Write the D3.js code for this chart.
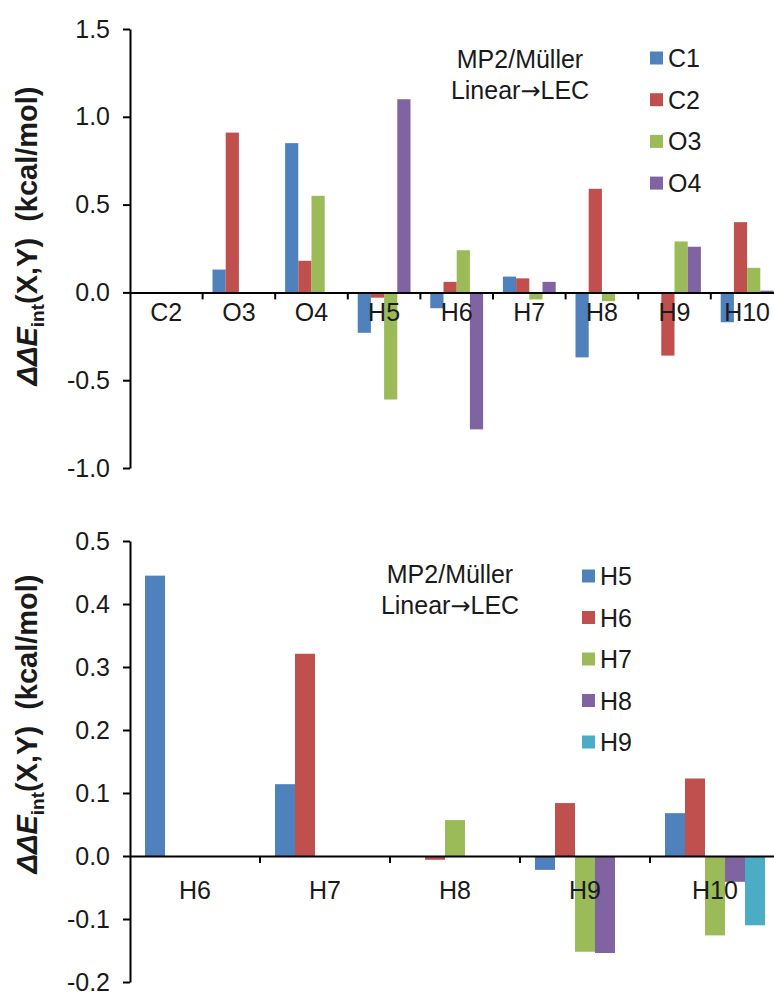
<!DOCTYPE html>
<html>
<head>
<meta charset="utf-8">
<script src="https://cdn.jsdelivr.net/npm/d3@7"></script>
<style>
  body { margin: 0; background: #fff; }
  svg { display: block; font-family: "Liberation Sans", Arial, sans-serif; }
</style>
</head>
<body>
<svg id="chart" width="774" height="992"></svg>
<script>
// top panel data
var topCategories = ["C2", "O3", "O4", "H5", "H6", "H7", "H8", "H9", "H10"];
var topSeries = ["C1", "C2", "O3", "O4"];
var topC1 = [0, 0.13, 0.85, -0.23, -0.09, 0.09, -0.37, 0, -0.17];
var topC2 = [0, 0.91, 0.18, -0.03, 0.06, 0.08, 0.59, -0.36, 0.40];
var topO3 = [0, 0, 0.55, -0.61, 0.24, -0.04, -0.05, 0.29, 0.14];
var topO4 = [0, 0, 0, 1.10, -0.78, 0.06, 0, 0.26, 0.01];
var topTicks = [-1.0, -0.5, 0.0, 0.5, 1.0, 1.5];

// bottom panel data
var botCategories = ["H6", "H7", "H8", "H9", "H10"];
var botSeries = ["H5", "H6", "H7", "H8", "H9"];
var botH5 = [0.445, 0.114, 0, -0.022, 0.068];
var botH6 = [0, 0.321, -0.006, 0.084, 0.123];
var botH7 = [0, 0, 0.057, -0.152, -0.126];
var botH8 = [0, 0, 0, -0.154, -0.041];
var botH9 = [0, 0, 0, 0, -0.11];
var botTicks = [-0.2, -0.1, 0.0, 0.1, 0.2, 0.3, 0.4, 0.5];

var colors = ["#4F81BD", "#C0504D", "#9BBB59", "#8064A2", "#4BACC6"];
var fontSize = 25;

var svg = d3.select("#chart");

function drawPanel(p) {
  var g = svg.append("g");

  var x = d3.scaleBand()
    .domain(p.categories)
    .range([p.left, p.left + p.band * p.categories.length]);

  var y = d3.scaleLinear()
    .domain([p.ticks[0], p.ticks[p.ticks.length - 1]])
    .range([p.bottom, p.top]);

  // excel style gap width 150%
  var barW = p.band / (p.series.length + 1.5);
  var inner = d3.scaleBand()
    .domain(p.series)
    .range([barW * 0.75, p.band - barW * 0.75]);

  p.series.forEach(function(s, si) {
    var vals = p.values[si];
    g.append("g").selectAll("rect")
      .data(p.categories.map(function(c, i) { return {cat: c, v: vals[i]}; }))
      .enter().append("rect")
      .attr("x", function(d) { return x(d.cat) + inner(s); })
      .attr("width", inner.bandwidth())
      .attr("y", function(d) { return y(Math.max(0, d.v)); })
      .attr("height", function(d) { return Math.abs(y(d.v) - y(0)); })
      .attr("fill", colors[si]);
  });

  // y axis
  var yAxis = d3.axisLeft(y)
    .tickValues(p.ticks)
    .tickFormat(function(d) { return d.toFixed(1); })
    .tickSize(7)
    .tickSizeOuter(0)
    .tickPadding(13);
  var ya = g.append("g")
    .attr("transform", "translate(" + p.left + ",0)")
    .call(yAxis);
  ya.selectAll("text").attr("font-size", fontSize).attr("fill", "#1a1a1a")
    .style("font-family", "Liberation Sans, Arial, sans-serif");
  ya.selectAll("line, path").attr("stroke", "#000").attr("stroke-width", 2);

  // x axis at zero
  var xAxis = d3.axisBottom(x).tickSize(0).tickPadding(p.labelGap);
  var xa = g.append("g")
    .attr("transform", "translate(0," + y(0) + ")")
    .call(xAxis);
  xa.select("path").attr("stroke", "#000").attr("stroke-width", 2);
  xa.selectAll("text").attr("font-size", fontSize).attr("fill", "#1a1a1a")
    .style("font-family", "Liberation Sans, Arial, sans-serif");

  // ticks between categories
  g.append("g").selectAll("line")
    .data(p.categories.slice(1))
    .enter().append("line")
    .attr("x1", function(d) { return x(d); })
    .attr("x2", function(d) { return x(d); })
    .attr("y1", y(0))
    .attr("y2", y(0) + 7)
    .attr("stroke", "#000")
    .attr("stroke-width", 2);

  // y label
  var lab = g.append("text")
    .attr("transform", "translate(" + p.labelX + "," + p.labelY + ") rotate(-90)")
    .attr("text-anchor", "middle")
    .attr("font-size", 29)
    .attr("font-weight", "bold")
    .attr("fill", "#1a1a1a");
  lab.append("tspan").attr("font-style", "italic").text("\u0394\u0394E");
  lab.append("tspan").attr("font-size", 19).attr("dy", 7).text("int");
  lab.append("tspan").attr("dy", -7).text("(X,Y)\u00a0\u00a0(kcal/mol)");

  // method note
  var note = g.append("g").attr("font-size", fontSize).attr("fill", "#1a1a1a")
    .attr("text-anchor", "middle");
  note.append("text").attr("x", p.noteX).attr("y", p.noteY).text("MP2/M\u00fcller");
  var l2 = note.append("text").attr("x", p.noteX).attr("y", p.noteY + 31);
  l2.append("tspan").text("Linear");
  l2.append("tspan").style("font-family", "DejaVu Sans").attr("font-size", 24).text("\u2192");
  l2.append("tspan").text("LEC");

  // legend
  var leg = g.append("g").selectAll("g")
    .data(p.series)
    .enter().append("g")
    .attr("transform", function(d, i) { return "translate(" + p.legX + "," + (p.legY + i * p.legStep) + ")"; });
  leg.append("rect")
    .attr("x", 0).attr("y", -6.5).attr("width", 13).attr("height", 13)
    .attr("fill", function(d, i) { return colors[i]; });
  leg.append("text")
    .attr("x", 18).attr("dy", "0.36em")
    .attr("font-size", fontSize).attr("fill", "#1a1a1a")
    .text(function(d) { return d; });
}

drawPanel({
  categories: topCategories, series: topSeries,
  values: [topC1, topC2, topO3, topO4], ticks: topTicks,
  left: 130, band: 72.6, top: 29, bottom: 468, labelGap: 11,
  labelX: 37, labelY: 236,
  noteX: 520, noteY: 68,
  legX: 650, legY: 58, legStep: 41.7
});

drawPanel({
  categories: botCategories, series: botSeries,
  values: [botH5, botH6, botH7, botH8, botH9], ticks: botTicks,
  left: 130, band: 130, top: 541, bottom: 982, labelGap: 25,
  labelX: 37, labelY: 724,
  noteX: 450, noteY: 583,
  legX: 582, legY: 576, legStep: 41.5
});
</script>
</body>
</html>
